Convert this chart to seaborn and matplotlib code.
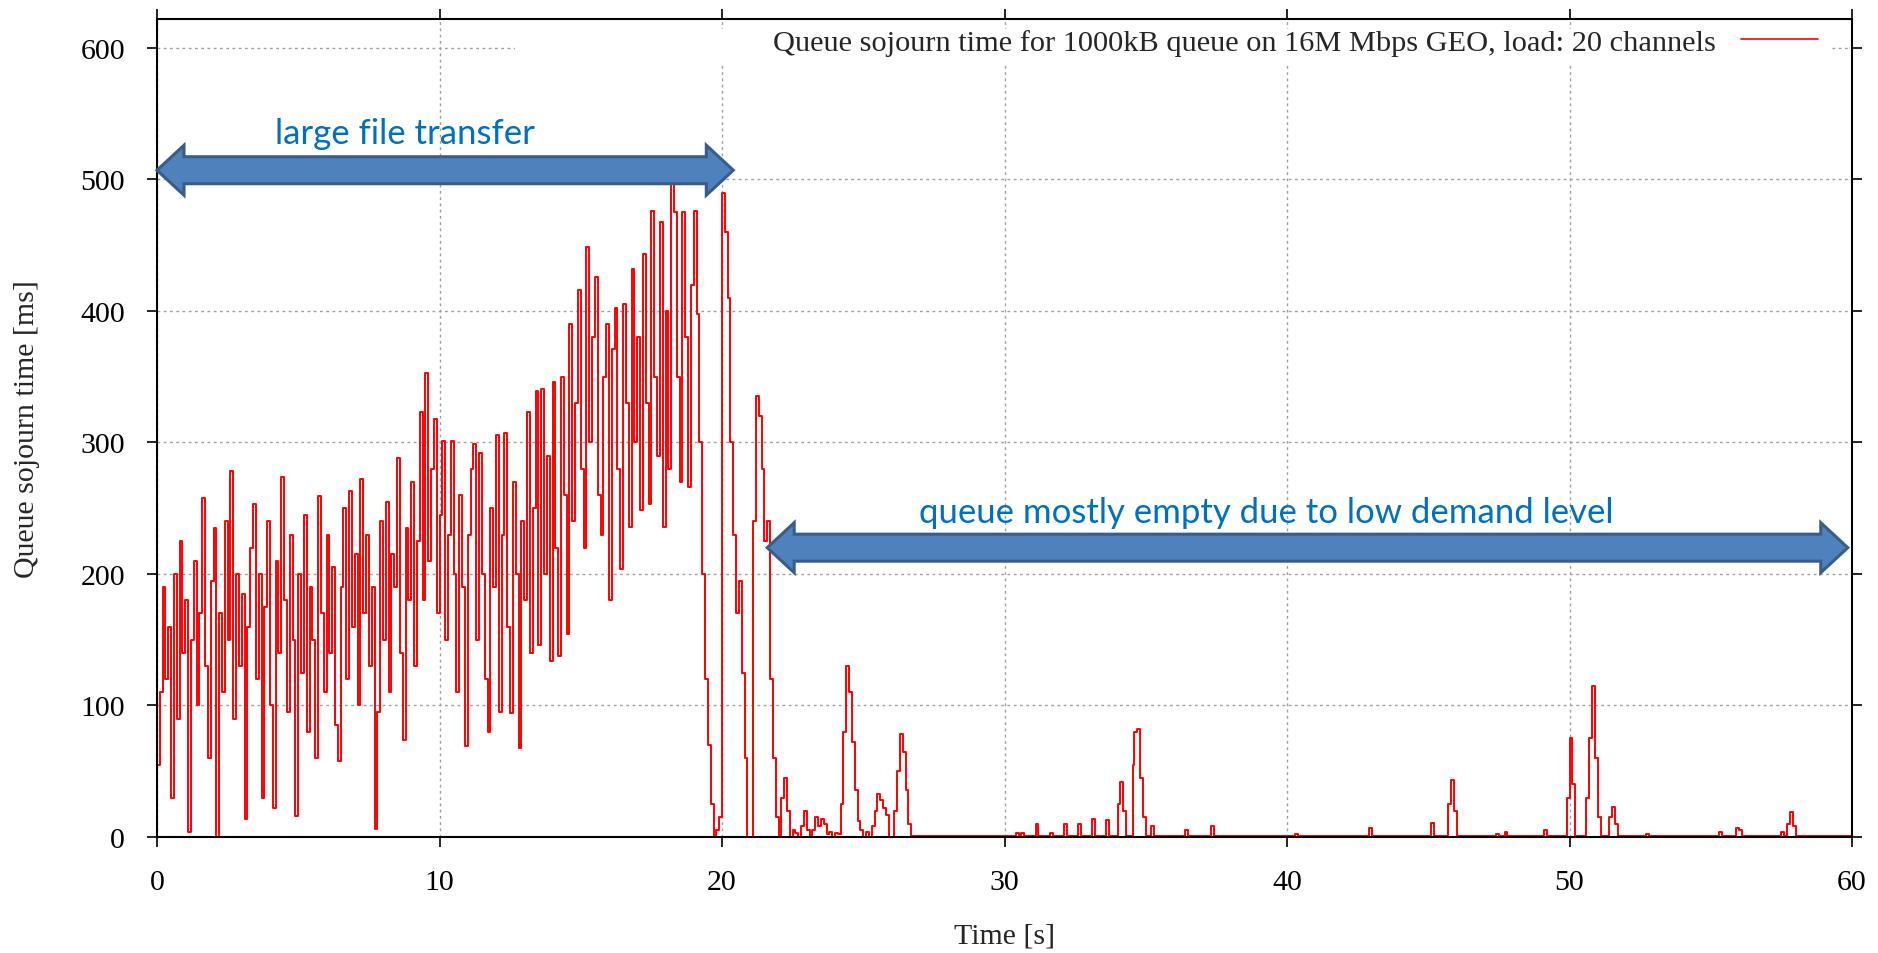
import numpy as np
import pandas as pd
import matplotlib
matplotlib.use("Agg")
import matplotlib.pyplot as plt
import matplotlib.patches as mpatches
import matplotlib.transforms as mtransforms
import seaborn as sns

# Queue sojourn time [ms], one sample every 0.1 s, 0.0 s .. 26.9 s (one row = 1 s)
busy_rows = [
    [55, 110, 190, 120, 160, 30, 200, 90, 225, 140],
    [180, 4, 150, 210, 100, 170, 258, 130, 60, 195],
    [235, 0, 170, 110, 240, 150, 278, 90, 200, 130],
    [185, 14, 160, 220, 253, 120, 200, 30, 175, 240],
    [100, 22, 210, 140, 274, 180, 95, 230, 150, 16],
    [200, 125, 245, 80, 190, 150, 60, 259, 170, 110],
    [230, 140, 205, 85, 58, 190, 250, 120, 263, 160],
    [215, 100, 272, 170, 230, 130, 190, 6, 95, 240],
    [150, 255, 110, 215, 190, 288, 140, 74, 235, 180],
    [270, 130, 225, 323, 180, 353, 210, 280, 318, 170],
    [245, 301, 150, 230, 301, 200, 110, 260, 190, 69],
    [230, 280, 299, 150, 292, 200, 120, 80, 250, 190],
    [306, 95, 230, 307, 160, 94, 270, 200, 68, 240],
    [180, 323, 140, 250, 339, 146, 341, 200, 290, 134],
    [346, 220, 138, 350, 260, 154, 390, 240, 330, 416],
    [280, 220, 449, 300, 380, 426, 260, 230, 350, 390],
    [180, 371, 402, 280, 204, 405, 330, 236, 432, 300],
    [380, 249, 443, 330, 253, 476, 350, 290, 468, 236],
    [400, 280, 498, 475, 350, 270, 475, 380, 266, 420],
    [476, 398, 300, 200, 120, 70, 25, 0, 5, 15],
    [490, 460, 410, 300, 230, 170, 195, 125, 60, 0],
    [0, 240, 335, 320, 280, 225, 240, 120, 60, 15],
    [0, 30, 45, 20, 0, 5, 3, 0, 8, 20],
    [5, 0, 5, 15, 8, 14, 10, 2, 4, 0],
    [3, 2, 25, 80, 130, 110, 72, 36, 12, 5],
    [0, 4, 0, 8, 20, 33, 28, 22, 17, 0],
    [0, 20, 50, 78, 65, 36, 10, 1, 1, 1],
]
busy_step = 0.1

# Quiet phase after 27 s: (time [s], sojourn [ms]) break points
quiet_points = [
    (27.0, 1), (30.3, 1), (30.4, 3), (30.5, 1), (30.6, 3), (30.7, 1),
    (31.0, 1), (31.1, 10), (31.2, 1), (31.5, 1), (31.6, 3), (31.7, 1),
    (32.0, 1), (32.1, 10), (32.2, 1), (32.5, 1), (32.6, 10), (32.7, 1),
    (33.0, 1), (33.1, 14), (33.2, 1), (33.5, 1), (33.6, 13), (33.7, 1),
    (33.9, 1), (34.0, 25), (34.1, 42), (34.2, 20), (34.3, 1), (34.5, 1),
    (34.55, 55), (34.6, 80), (34.7, 82), (34.8, 45), (34.9, 15), (35.0, 1),
    (35.1, 1), (35.2, 8), (35.3, 1), (36.3, 1), (36.4, 5), (36.5, 1),
    (37.2, 1), (37.3, 8), (37.4, 1), (40.2, 1), (40.3, 2), (40.4, 1),
    (42.8, 1), (42.9, 7), (43.0, 1), (45.0, 1), (45.1, 11), (45.2, 1),
    (45.6, 1), (45.7, 25), (45.8, 43), (45.9, 20), (46.0, 1),
    (47.3, 1), (47.4, 2), (47.5, 1), (47.6, 1), (47.7, 4), (47.8, 1),
    (49.0, 1), (49.1, 5), (49.2, 1), (49.8, 1), (49.9, 30), (50.0, 75),
    (50.1, 40), (50.2, 1), (50.5, 1), (50.6, 30), (50.7, 75), (50.8, 115),
    (50.9, 60), (51.0, 15), (51.1, 1), (51.3, 1), (51.4, 15), (51.5, 23),
    (51.6, 10), (51.7, 1), (52.6, 1), (52.7, 2), (52.8, 1),
    (55.2, 1), (55.3, 4), (55.4, 1), (55.8, 1), (55.9, 7), (56.0, 5),
    (56.1, 1), (57.4, 1), (57.5, 4), (57.6, 1), (57.7, 10), (57.8, 19),
    (57.9, 8), (58.0, 1), (60.0, 1),
]

series_label = "Queue sojourn time for 1000kB queue on 16M Mbps GEO, load: 20 channels"
x_ticks = [0, 10, 20, 30, 40, 50, 60]
y_ticks = [0, 100, 200, 300, 400, 500, 600]

# Annotations: (x_start, x_end, y) of the block arrows and their captions
arrow_spans = [(0.0, 20.4, 507), (21.6, 59.85, 220)]
captions = [(8.78, 535, "large file transfer"),
            (39.26, 247, "queue mostly empty due to low demand level")]

# Build one table
busy_vals = np.concatenate(busy_rows)
busy_t = np.round(np.arange(len(busy_vals)) * busy_step, 1)
quiet_t, quiet_vals = zip(*quiet_points)
df = pd.DataFrame({
    "time": np.concatenate([busy_t, quiet_t]),
    "sojourn": np.concatenate([busy_vals, quiet_vals]),
})

sns.set_style("ticks")
plt.rcParams["font.family"] = ["Liberation Serif", "DejaVu Serif"]

fig = plt.figure(figsize=(18.78, 9.54), dpi=100)
ax = fig.add_axes([157 / 1878, 116 / 954, 1695 / 1878, 818 / 954])

sns.lineplot(data=df, x="time", y="sojourn", color="#ff0000", linewidth=1.4,
             drawstyle="steps-post", estimator=None, sort=False,
             label=series_label, ax=ax, zorder=2)

ax.set_xlim(0, 60)
ax.set_ylim(0, 622)
ax.set_xticks(x_ticks)
ax.set_yticks(y_ticks)
ax.set_axisbelow(True)
ax.grid(True, color="#a0a0a0", linestyle=(0, (2, 2.5)), linewidth=1.0)

for sp in ax.spines.values():
    sp.set_visible(True)
    sp.set_color("black")
    sp.set_linewidth(1.5)
ax.tick_params(direction="out", length=7, width=1.2, top=True, right=True,
               labelsize=21.5, pad=16, colors="black")

ax.set_xlabel("Time [s]", fontsize=21.5)
ax.set_ylabel("Queue sojourn time [ms]", fontsize=21.5)
ax.xaxis.set_label_coords(0.5, -0.105)
ax.yaxis.set_label_coords(-0.069, 0.5)

# key box blanks the grid behind it (gnuplot style)
ax.add_patch(mpatches.Rectangle((0.211, 0.944), 0.776, 0.044, transform=ax.transAxes,
                                facecolor="white", edgecolor="none", zorder=1))
leg = ax.legend(loc="upper right", bbox_to_anchor=(0.98, 0.988), markerfirst=False,
                frameon=False, fontsize=21.9, handlelength=2.55, handletextpad=0.8,
                borderaxespad=0, borderpad=0)
for h in leg.get_lines():
    h.set_linewidth(1.2)


def block_double_arrow(ax, x0, x1, y, shaft=13.5, head=25.0, head_len=27.0):
    (px0, py), (px1, _) = ax.transData.transform([(x0, y), (x1, y)])
    verts = [(px0, py), (px0 + head_len, py + head), (px0 + head_len, py + shaft),
             (px1 - head_len, py + shaft), (px1 - head_len, py + head), (px1, py),
             (px1 - head_len, py - head), (px1 - head_len, py - shaft),
             (px0 + head_len, py - shaft), (px0 + head_len, py - head)]
    poly = mpatches.Polygon(verts, closed=True, transform=mtransforms.IdentityTransform(),
                            facecolor="#4f81bd", edgecolor="#385d8a", linewidth=2.2,
                            joinstyle="miter", zorder=5, clip_on=False)
    ax.add_artist(poly)


for x0, x1, y in arrow_spans:
    block_double_arrow(ax, x0, x1, y)

for x, y, txt in captions:
    ax.text(x, y, txt, ha="center", va="center", color="#0070c0",
            fontsize=25, family=["Lato", "DejaVu Sans"], zorder=6)

fig.savefig("out.png", dpi=100)
